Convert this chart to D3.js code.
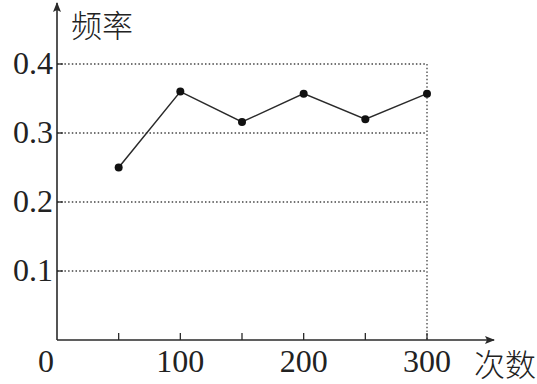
<!DOCTYPE html>
<html>
<head>
<meta charset="UTF-8">
<title>频率</title>
<script src="https://cdnjs.cloudflare.com/ajax/libs/d3/7.8.5/d3.min.js"></script>
<style>
    body { margin: 0; background: #fff; }
    svg { display: block; }
    .grid { stroke: #444; stroke-width: 1.3px; stroke-dasharray: 1.5 2.2; }
</style>
</head>
<body>
<svg id="chart" width="537" height="384"></svg>
<script>
"use strict";

const counts = [50, 100, 150, 200, 250, 300];
const freqs = [0.25, 0.36, 0.316, 0.357, 0.32, 0.357];
const yTicks = [0.1, 0.2, 0.3, 0.4];
const xLabels = [100, 200, 300];
const xMinor = [50, 100, 150, 200, 250, 300];

const svg = d3.select("#chart");

const x = d3.scaleLinear().domain([0, 300]).range([57, 427]);
const y = d3.scaleLinear().domain([0, 0.4]).range([340, 64]);

const ink = "#2a2a2a";
const serifFont = "'Liberation Serif', 'Times New Roman', serif";
const cjkFont = "'Noto Sans CJK SC', sans-serif";

function numText(sel) {
    return sel.style("font-family", serifFont)
        .style("font-size", "32px")
        .attr("fill", "#222");
}

function cjkText(sel) {
    return sel.style("font-family", cjkFont)
        .style("font-size", "31px")
        .style("font-weight", 300)
        .attr("fill", "#222");
}

// dotted grid
svg.selectAll("line.hgrid").data(yTicks).join("line")
    .attr("class", "grid")
    .attr("x1", x(0)).attr("x2", x(300))
    .attr("y1", d => y(d)).attr("y2", d => y(d));

svg.append("line")
    .attr("class", "grid")
    .attr("x1", x(300)).attr("x2", x(300))
    .attr("y1", y(0.4)).attr("y2", y(0));

// axes with arrows
svg.append("defs").append("marker")
    .attr("id", "arrow")
    .attr("viewBox", "0 0 10 10")
    .attr("refX", 9).attr("refY", 5)
    .attr("markerWidth", 10).attr("markerHeight", 10)
    .attr("markerUnits", "userSpaceOnUse")
    .attr("orient", "auto")
    .append("path")
    .attr("d", "M0,1 L10,5 L0,9 L2,5 Z")
    .attr("fill", ink);

svg.append("line")
    .attr("x1", x(0)).attr("y1", y(0))
    .attr("x2", 494).attr("y2", y(0))
    .attr("stroke", ink).attr("stroke-width", 1.6)
    .attr("marker-end", "url(#arrow)");

svg.append("line")
    .attr("x1", x(0)).attr("y1", y(0))
    .attr("x2", x(0)).attr("y2", 3)
    .attr("stroke", ink).attr("stroke-width", 1.6)
    .attr("marker-end", "url(#arrow)");

// small ticks
svg.selectAll("line.xtick").data(xMinor).join("line")
    .attr("x1", d => x(d)).attr("x2", d => x(d))
    .attr("y1", y(0)).attr("y2", y(0) - 7)
    .attr("stroke", ink).attr("stroke-width", 1.3);

svg.selectAll("line.ytick").data(yTicks).join("line")
    .attr("x1", x(0)).attr("x2", x(0) + 6)
    .attr("y1", d => y(d)).attr("y2", d => y(d))
    .attr("stroke", ink).attr("stroke-width", 1.3);

// tick labels
svg.selectAll("text.ylab").data(yTicks).join("text")
    .attr("x", 53).attr("y", d => y(d) + 10)
    .attr("text-anchor", "end")
    .call(numText)
    .text(d => d.toFixed(1));

svg.selectAll("text.xlab").data(xLabels).join("text")
    .attr("x", d => x(d)).attr("y", 372)
    .attr("text-anchor", "middle")
    .call(numText)
    .text(d => d);

svg.append("text")
    .attr("x", 46).attr("y", 372)
    .attr("text-anchor", "middle")
    .call(numText)
    .text("0");

svg.append("text")
    .attr("x", 71).attr("y", 37)
    .call(cjkText)
    .text("频率");

svg.append("text")
    .attr("x", 474).attr("y", 376)
    .call(cjkText)
    .text("次数");

// data line
const pts = counts.map((c, i) => [c, freqs[i]]);

svg.append("path")
    .datum(pts)
    .attr("fill", "none")
    .attr("stroke", ink).attr("stroke-width", 1.5)
    .attr("d", d3.line().x(d => x(d[0])).y(d => y(d[1])));

svg.selectAll("circle.pt").data(pts).join("circle")
    .attr("cx", d => x(d[0])).attr("cy", d => y(d[1]))
    .attr("r", 4)
    .attr("fill", "#111");
</script>
</body>
</html>
